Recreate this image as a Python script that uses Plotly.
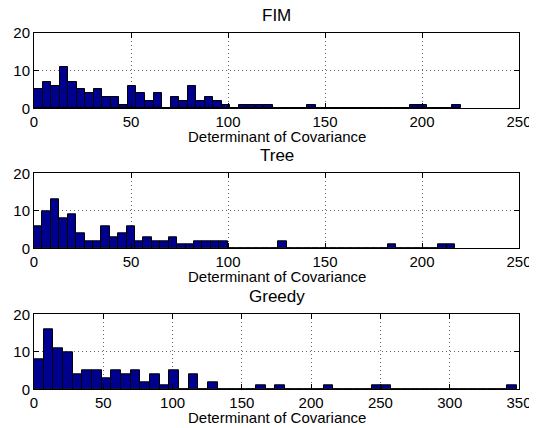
import plotly.graph_objects as go

# Histogram counts (50 bins each)
fim_counts = [5, 7, 6, 11, 7, 5, 4, 5, 3, 3, 1, 6, 4, 2, 4, 0, 3, 2, 6, 2,
              3, 2, 1, 0, 1, 1, 1, 1, 0, 0, 0, 0, 1, 0, 0, 0, 0, 0, 0, 0,
              0, 0, 0, 0, 1, 1, 0, 0, 0, 1]
tree_counts = [6, 10, 13, 8, 9, 4, 2, 2, 6, 3, 4, 6, 2, 3, 2, 2, 3, 1, 1, 2,
               2, 2, 2, 0, 0, 0, 0, 0, 0, 2, 0, 0, 0, 0, 0, 0, 0, 0, 0, 0,
               0, 0, 1, 0, 0, 0, 0, 0, 1, 1]
greedy_counts = [8, 16, 11, 10, 4, 5, 5, 3, 5, 4, 5, 2, 4, 1, 5, 0, 4, 0, 2, 0,
                 0, 0, 0, 1, 0, 1, 0, 0, 0, 0, 1, 0, 0, 0, 0, 1, 1, 0, 0, 0,
                 0, 0, 0, 0, 0, 0, 0, 0, 0, 1]

# bin layout: (start, width)
fim_bins = (0.0, 4.4)
tree_bins = (0.0, 4.34)
greedy_bins = (0.0, 6.97)

titles = ["FIM", "Tree", "Greedy"]
x_label = "Determinant of Covariance"
x_ranges = [[0, 250], [0, 250], [0, 350]]
x_ticks = [[0, 50, 100, 150, 200, 250], [0, 50, 100, 150, 200, 250],
           [0, 50, 100, 150, 200, 250, 300, 350]]
y_ticks = [0, 10, 20]

# page body has an 8px margin, so the figure is laid out 8px smaller
OFF = 8
W, H = 537 - OFF, 428 - OFF
x_dom = [(34 - OFF) / W, (519 - OFF) / W]
# axes top/bottom in page pixels
axes_px = [(33, 108.3), (173.3, 248.3), (314.3, 389.3)]

FONT = "Liberation Sans, Arial, sans-serif"
FS = 15
FS_TITLE = 17
BAR_COLOR = "#00008F"
GRID = dict(showgrid=True, gridcolor="#666666", griddash="1px,3px", gridwidth=1)

fig = go.Figure()
series = [(fim_counts, fim_bins), (tree_counts, tree_bins), (greedy_counts, greedy_bins)]
annotations = []
for i, ((counts, (start, width)), title) in enumerate(zip(series, titles)):
    n = i + 1
    xs = [start + width * (k + 0.5) for k in range(len(counts))]
    fig.add_trace(go.Bar(
        x=xs, y=counts, width=width,
        marker=dict(color=BAR_COLOR, line=dict(color="black", width=1)),
        xaxis=f"x{n}" if n > 1 else "x", yaxis=f"y{n}" if n > 1 else "y",
        showlegend=False, hoverinfo="x+y",
    ))
    top, bot = axes_px[i]
    top -= OFF
    bot -= OFF
    xa = dict(
        domain=x_dom, range=x_ranges[i], tickvals=x_ticks[i],
        showline=True, linecolor="black", linewidth=1, mirror="ticks",
        ticks="inside", ticklen=5, tickcolor="black", tickwidth=1,
        zeroline=False, anchor=f"y{n}" if n > 1 else "y",
        tickfont=dict(family=FONT, size=FS, color="black"),
        fixedrange=True, automargin=False, **GRID,
    )
    ya = dict(
        domain=[(H - bot) / H, (H - top) / H], range=[0, 20], tickvals=y_ticks,
        showline=True, linecolor="black", linewidth=1, mirror="ticks",
        ticks="inside", ticklen=5, tickcolor="black", tickwidth=1,
        zeroline=False, anchor=f"x{n}" if n > 1 else "x",
        tickfont=dict(family=FONT, size=FS, color="black"),
        fixedrange=True, automargin=False, **GRID,
    )
    key = "" if n == 1 else str(n)
    fig.update_layout(**{f"xaxis{key}": xa, f"yaxis{key}": ya})
    cx = (x_dom[0] + x_dom[1]) / 2
    annotations.append(dict(
        text=title, x=cx, y=(H - (top - 18)) / H, xref="paper", yref="paper",
        xanchor="center", yanchor="middle", showarrow=False,
        font=dict(family=FONT, size=FS_TITLE, color="black"),
    ))
    annotations.append(dict(
        text=x_label, x=cx, y=(H - (bot + 28)) / H, xref="paper", yref="paper",
        xanchor="center", yanchor="middle", showarrow=False,
        font=dict(family=FONT, size=FS, color="black"),
    ))

fig.update_layout(
    width=W, height=H,
    margin=dict(l=0, r=0, t=0, b=0),
    paper_bgcolor="white", plot_bgcolor="white",
    bargap=0, annotations=annotations,
    font=dict(family=FONT, size=FS, color="black"),
)

fig.write_html("out.html")
